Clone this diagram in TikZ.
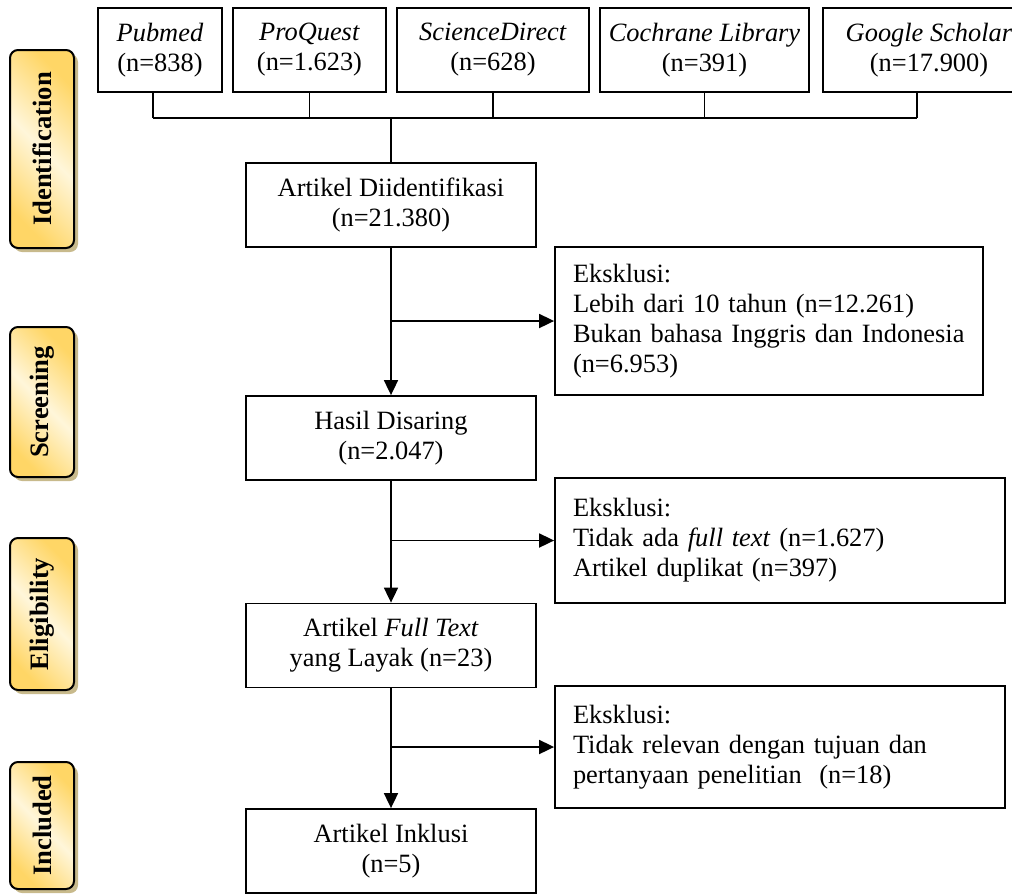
\documentclass[tikz,border=0pt]{standalone}
\usepackage{fontspec}
\setmainfont{Liberation Serif}
\usetikzlibrary{arrows.meta,shadows}
\definecolor{labelgold}{RGB}{255,214,102}
\definecolor{labelcream}{RGB}{255,246,218}
\definecolor{labelshadow}{RGB}{200,186,140}
\pgfdeclarehorizontalshading{labelshade}{100bp}{color(0bp)=(labelgold); color(25bp)=(labelgold); color(50bp)=(labelcream); color(75bp)=(labelgold); color(100bp)=(labelgold)}

\begin{document}
\begin{tikzpicture}[x=0.5pt,y=-0.5pt,
	font=\fontsize{13.2}{15}\selectfont,
	box/.style={draw,rectangle,line width=0.9pt,align=center,inner sep=0pt,minimum height=42pt},
	exclbox/.style={draw,rectangle,line width=0.9pt,align=left,inner xsep=9pt,inner ysep=0pt},
	stage/.style={draw,rectangle,rounded corners=4pt,line width=1pt,shading=labelshade,shading angle=45,minimum width=32pt,inner sep=0pt,font=\fontsize{13.3}{15}\selectfont\bfseries,drop shadow={shadow xshift=2pt,shadow yshift=-2pt,fill=labelshadow,opacity=1}},
	link/.style={line width=0.9pt},
	arrw/.style={line width=0.9pt,-{Triangle[length=7.5pt,width=7pt]}}]
			\useasboundingbox (0,0) rectangle (1012,895);
			% stages
			\node[stage,minimum height=99pt] (lblident) at (42,149){\rotatebox{90}{Identification}};
			\node[stage,minimum height=75pt] (lblscreen) at (42,402){\rotatebox{90}{Screening}};
			\node[stage,minimum height=76pt] (lblelig) at (42,614){\rotatebox{90}{Eligibility}};
			\node[stage,minimum height=63.5pt] (lblincl) at (42,825.5){\rotatebox{90}{Included}};
			% sources
			\node[box,minimum width=62pt] (pubmed) at (160,50){\textit{Pubmed}\\(n=838)};
			\node[box,minimum width=76.5pt] (proquest) at (309.5,50){\textit{ProQuest}\\(n=1.623)};
			\node[box,minimum width=96pt] (scidir) at (493,50){\textit{ScienceDirect}\\(n=628)};
			\node[box,minimum width=104.5pt] (cochrane) at (704.5,50){\textit{Cochrane Library}\\(n=391)};
			\node[box,minimum width=106pt] (google) at (929,50){\textit{Google Scholar}\\(n=17.900)};
			% flow
			\node[box,minimum width=145pt] (ident) at (391,205){Artikel Diidentifikasi\\(n=21.380)};
			\node[box,minimum width=145pt] (hasil) at (391,438){Hasil Disaring\\(n=2.047)};
			\node[box,minimum width=145pt] (fulltext) at (391,645.5){Artikel \textit{Full Text}\\yang Layak (n=23)};
			\node[box,minimum width=145pt] (inklusi) at (391,851){Artikel Inklusi\\(n=5)};
			% exclusions
			\node[exclbox,text width=196pt,minimum height=74pt] (excl1) at (769,321){Eksklusi:\\Lebih dari 10 tahun (n=12.261)\\\mbox{Bukan bahasa Inggris dan Indonesia}\\(n=6.953)};
			\node[exclbox,text width=207pt,minimum height=62.5pt] (excl2) at (780,540.5){Eksklusi:\\Tidak ada \textit{full text} (n=1.627)\\Artikel duplikat (n=397)};
			\node[exclbox,text width=207pt,minimum height=61pt] (excl3) at (780,747){Eksklusi:\\Tidak relevan dengan tujuan dan\\pertanyaan penelitian~ (n=18)};
			% connectors
			\coordinate (bus) at (391,118);
			\coordinate (pubmedstem) at ([xshift=-3.5pt]pubmed.south);
			\coordinate (googlestem) at ([xshift=-6pt]google.south);
			\draw (pubmedstem) edge [link] (pubmedstem |- bus);
			\draw (proquest.south) edge [link] (proquest.south |- bus);
			\draw (scidir.south) edge [link] (scidir.south |- bus);
			\draw (cochrane.south) edge [link] (cochrane.south |- bus);
			\draw (googlestem) edge [link] (googlestem |- bus);
			\draw[link] (pubmedstem |- bus) -- (googlestem |- bus);
			\draw (ident.north |- bus) edge [link] (ident.north);
			\draw (ident.south) edge [arrw] (hasil.north);
			\draw (hasil.south) edge [arrw] (fulltext.north);
			\draw (fulltext.south) edge [arrw] (inklusi.north);
			\draw (ident.south |- excl1.west) edge [arrw] (excl1.west);
			\draw (hasil.south |- excl2.west) edge [arrw] (excl2.west);
			\draw (fulltext.south |- excl3.west) edge [arrw] (excl3.west);
		\end{tikzpicture}
\end{document}
